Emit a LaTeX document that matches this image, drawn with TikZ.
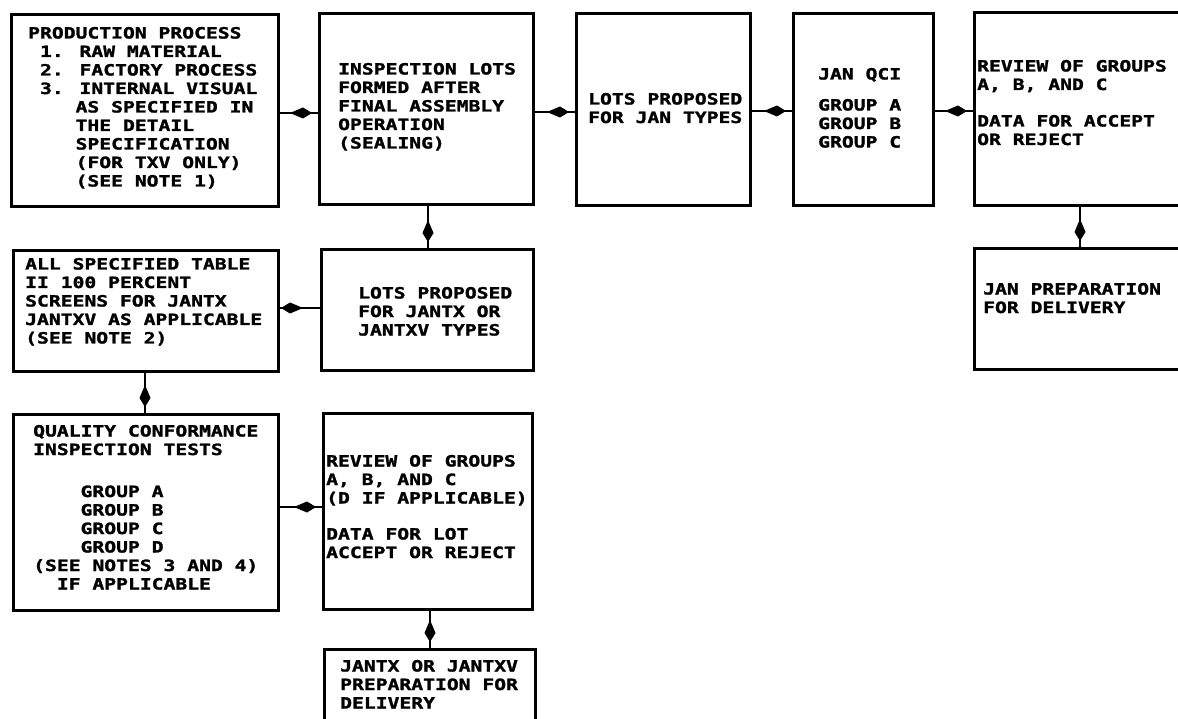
\documentclass[tikz,border=0pt]{standalone}
\usepackage{fontspec}
\newfontfamily\plotfont[FakeStretch=1.27,FakeBold=1.6]{DejaVu Sans Mono}
\usetikzlibrary{arrows.meta}
\newcommand\plotlines[1]{\begin{tabular}[t]{@{}l@{}}#1\end{tabular}}
\begin{document}
\begin{tikzpicture}[x=1pt,y=-1pt,
  box/.style={draw, line width=3pt, rectangle, inner sep=0pt, anchor=north west},
  tx/.style={inner sep=0pt, anchor=base west, font=\plotfont\bfseries\fontsize{15.5}{18.5}\selectfont},
  conn/.style={line width=2.8pt},
  tip/.style={line width=1pt, -{Kite[length=22pt,width=11pt,inset=13pt]}, shorten >=6pt}]
\useasboundingbox (0,0) rectangle (1178,719);
\fill[white] (0,0) rectangle (1178,719);
\clip (0,0) rectangle (1178,719);

% boxes
\node[box, minimum width=267pt, minimum height=192pt] (b1) at (10,13) {};
\node[box, minimum width=214pt, minimum height=191pt] (b2) at (318,12) {};
\node[box, minimum width=174pt, minimum height=192pt] (b3) at (575,12) {};
\node[box, minimum width=140pt, minimum height=192pt] (b4) at (792,12) {};
\node[box, minimum width=240pt, minimum height=193pt] (b5) at (973,11) {};
\node[box, minimum width=240pt, minimum height=121pt] (b6) at (973,247) {};
\node[box, minimum width=265pt, minimum height=121pt] (b7) at (12,249) {};
\node[box, minimum width=212pt, minimum height=121pt] (b8) at (320,248) {};
\node[box, minimum width=265pt, minimum height=196pt] (b9) at (12,413) {};
\node[box, minimum width=209pt, minimum height=196pt] (b10) at (322,412) {};
\node[box, minimum width=211pt, minimum height=100pt] (b11) at (323,648) {};

% texts
\node[tx] (t1) at (28,38.5) {\plotlines{PRODUCTION PROCESS\\
\hphantom{0}1. RAW MATERIAL\\
\hphantom{0}2. FACTORY PROCESS\\
\hphantom{0}3. INTERNAL VISUAL\\
\hphantom{0000}AS SPECIFIED IN\\
\hphantom{0000}THE DETAIL\\
\hphantom{0000}SPECIFICATION\\
\hphantom{0000}(FOR TXV ONLY)\\
\hphantom{0000}(SEE NOTE 1)}};
\node[tx] (t2) at (338,74.5) {\plotlines{INSPECTION LOTS\\FORMED AFTER\\FINAL ASSEMBLY\\OPERATION\\(SEALING)}};
\node[tx] (t3) at (588,104.5) {\plotlines{LOTS PROPOSED\\FOR JAN TYPES}};
\node[tx] (t4) at (818,79.5) {\plotlines{JAN QCI\\[12.5pt]GROUP A\\GROUP B\\GROUP C}};
\node[tx] (t5) at (977,71.5) {\plotlines{REVIEW OF GROUPS\\A, B, AND C\\[18pt]DATA FOR ACCEPT\\OR REJECT}};
\node[tx] (t6) at (983,294.5) {\plotlines{JAN PREPARATION\\FOR DELIVERY}};
\node[tx] (t7) at (25,269.5) {\plotlines{ALL SPECIFIED TABLE\\II 100 PERCENT\\SCREENS FOR JANTX\\JANTXV AS APPLICABLE\\(SEE NOTE 2)}};
\node[tx] (t8) at (358,298.5) {\plotlines{LOTS PROPOSED\\FOR JANTX OR\\JANTXV TYPES}};
\node[tx] (t9) at (33,436.5) {\plotlines{QUALITY CONFORMANCE\\INSPECTION TESTS\\[23.5pt]%
\hphantom{0000}GROUP A\\
\hphantom{0000}GROUP B\\
\hphantom{0000}GROUP C\\
\hphantom{0000}GROUP D\\
(SEE NOTES 3 AND 4)\\
\hphantom{00}IF APPLICABLE}};
\node[tx] (t10) at (326,466.5) {\plotlines{REVIEW OF GROUPS\\A, B, AND C\\(D IF APPLICABLE)\\[17.5pt]DATA FOR LOT\\ACCEPT OR REJECT}};
\node[tx] (t11) at (340,671.5) {\plotlines{JANTX OR JANTXV\\PREPARATION FOR\\DELIVERY}};

% connectors
\foreach \a/\b/\y in {b1/b2/113, b2/b3/112, b3/b4/111, b4/b5/111, b9/b10/507} {
  \draw[conn] (\a.east |- 0,\y) -- (\b.west |- 0,\y);
  \draw[tip] (\a.east |- 0,\y) -- (\b.west |- 0,\y);
}
\draw[conn] (b8.west |- 0,308) -- (b7.east |- 0,308);
\draw[tip, shorten >=1pt] (b8.west |- 0,308) -- (b7.east |- 0,308);
\foreach \a/\b/\x in {b5/b6/1080, b2/b8/428, b7/b9/145, b10/b11/430} {
  \draw[conn] (\a.south -| \x,0) -- (\b.north -| \x,0);
  \draw[tip] (\a.south -| \x,0) -- (\b.north -| \x,0);
}
\end{tikzpicture}
\end{document}
